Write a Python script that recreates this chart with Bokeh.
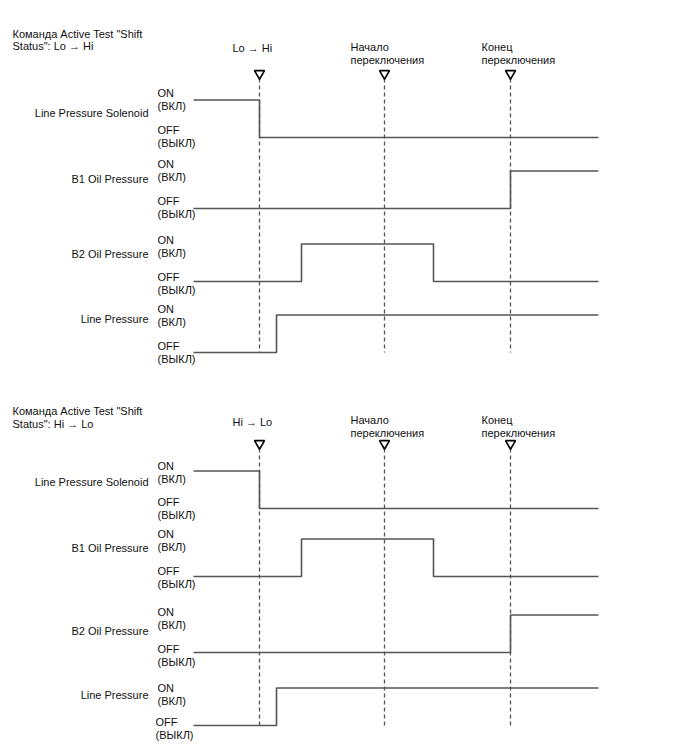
from bokeh.plotting import figure
from bokeh.models import Range1d
from bokeh.embed import file_html
from bokeh.resources import INLINE
from bokeh.core.properties import value

# ---------------- data (time units) ----------------
signal_names = ["Line Pressure Solenoid", "B1 Oil Pressure", "B2 Oil Pressure", "Line Pressure"]
on_labels = ["ON", "(ВКЛ)"]
off_labels = ["OFF", "(ВЫКЛ)"]

panel_titles_lo_hi = ["Команда Active Test \"Shift", "Status\": Lo → Hi"]
panel_titles_hi_lo = ["Команда Active Test \"Shift", "Status\": Hi → Lo"]

event_times = [66, 191, 317]          # command, shift start, shift end
event_labels_lo_hi = [["Lo → Hi"], ["Начало", "переключения"], ["Конец", "переключения"]]
event_labels_hi_lo = [["Hi → Lo"], ["Начало", "переключения"], ["Конец", "переключения"]]
t_end = 405

lo_hi_initial = [1, 0, 0, 0]
lo_hi_switch_times = [[66], [317], [108, 240], [83]]
hi_lo_initial = [1, 0, 0, 0]
hi_lo_switch_times = [[66], [108, 240], [317], [83]]

# ---------------- layout (pixels) ----------------
FONT = value("Liberation Sans")
FS = "11px"
LINE_C = "#555555"
TXT_C = "#111111"

p = figure(width=688, height=755, x_range=Range1d(-193, 495), y_range=Range1d(755, 0),
           x_axis_type=None, y_axis_type=None, output_backend="svg", toolbar_location=None,
           min_border=0, min_border_left=0, min_border_right=0, min_border_top=0, min_border_bottom=0)
p.grid.visible = False
p.outline_line_color = None
p.background_fill_color = "white"
p.border_fill_color = "white"

panels = [
    dict(titles=panel_titles_lo_hi, title_y=[33, 45], ev_labels=event_labels_lo_hi,
         ev_label_y=[[47], [46, 59], [46, 59]], tri_y=73, dash_end=352,
         initial=lo_hi_initial, switches=lo_hi_switch_times,
         off_y=[137, 208, 281, 352], name_y=[112, 178, 253, 318],
         on_txt_y=[92, 163, 239, 308], off_txt_y=[129, 200, 276, 345], off_x=[-36, -36, -36, -36]),
    dict(titles=panel_titles_hi_lo, title_y=[410, 423], ev_labels=event_labels_hi_lo,
         ev_label_y=[[421], [419, 432], [419, 432]], tri_y=443, dash_end=725,
         initial=hi_lo_initial, switches=hi_lo_switch_times,
         off_y=[508, 576, 652, 725], name_y=[481, 547, 630, 694],
         on_txt_y=[465, 533, 611, 687], off_txt_y=[501, 570, 648, 721], off_x=[-36, -36, -36, -38]),
]
LEVEL_H = 37.5
ev_label_dx = [-27, -34, -29]

for pan in panels:
    # titles
    p.text(x=[-181, -181], y=pan["title_y"], text=pan["titles"], text_font=FONT,
           text_font_size=FS, text_baseline="middle", text_align="left", text_color=TXT_C)
    # event markers
    for t, labs, ly, dx in zip(event_times, pan["ev_labels"], pan["ev_label_y"], ev_label_dx):
        p.text(x=[t + dx] * len(labs), y=ly, text=labs, text_font=FONT, text_font_size=FS,
               text_baseline="middle", text_align="left", text_color=TXT_C)
        p.segment(x0=[t], y0=[pan["tri_y"] + 5], x1=[t], y1=[pan["dash_end"]],
                  line_color=LINE_C, line_width=1.3, line_dash="4 3")
    p.scatter(x=event_times, y=[pan["tri_y"]] * 3, marker="inverted_triangle", size=10,
              fill_color="white", line_color="black", line_width=1.6)
    # signals
    for i, name in enumerate(signal_names):
        base = pan["off_y"][i]
        lvl = pan["initial"][i]
        xs, ys = [0], [base - lvl * LEVEL_H]
        for st in pan["switches"][i]:
            xs.append(st); ys.append(base - lvl * LEVEL_H)
            lvl = 1 - lvl
            xs.append(st); ys.append(base - lvl * LEVEL_H)
        xs.append(t_end); ys.append(base - lvl * LEVEL_H)
        p.line(xs, ys, line_color=LINE_C, line_width=1.6)
        p.text(x=[-45], y=[pan["name_y"][i]], text=[name], text_font=FONT, text_font_size=FS,
               text_baseline="middle", text_align="right", text_color=TXT_C)
        ty_on = pan["on_txt_y"][i]
        ty_off = pan["off_txt_y"][i]
        p.text(x=[-36, -36], y=[ty_on, ty_on + 13], text=on_labels, text_font=FONT,
               text_font_size=FS, text_baseline="middle", text_align="left", text_color=TXT_C)
        ox = pan["off_x"][i]
        p.text(x=[ox, ox], y=[ty_off, ty_off + 13], text=off_labels, text_font=FONT,
               text_font_size=FS, text_baseline="middle", text_align="left", text_color=TXT_C)

open("out.html", "w").write(file_html(p, INLINE))
